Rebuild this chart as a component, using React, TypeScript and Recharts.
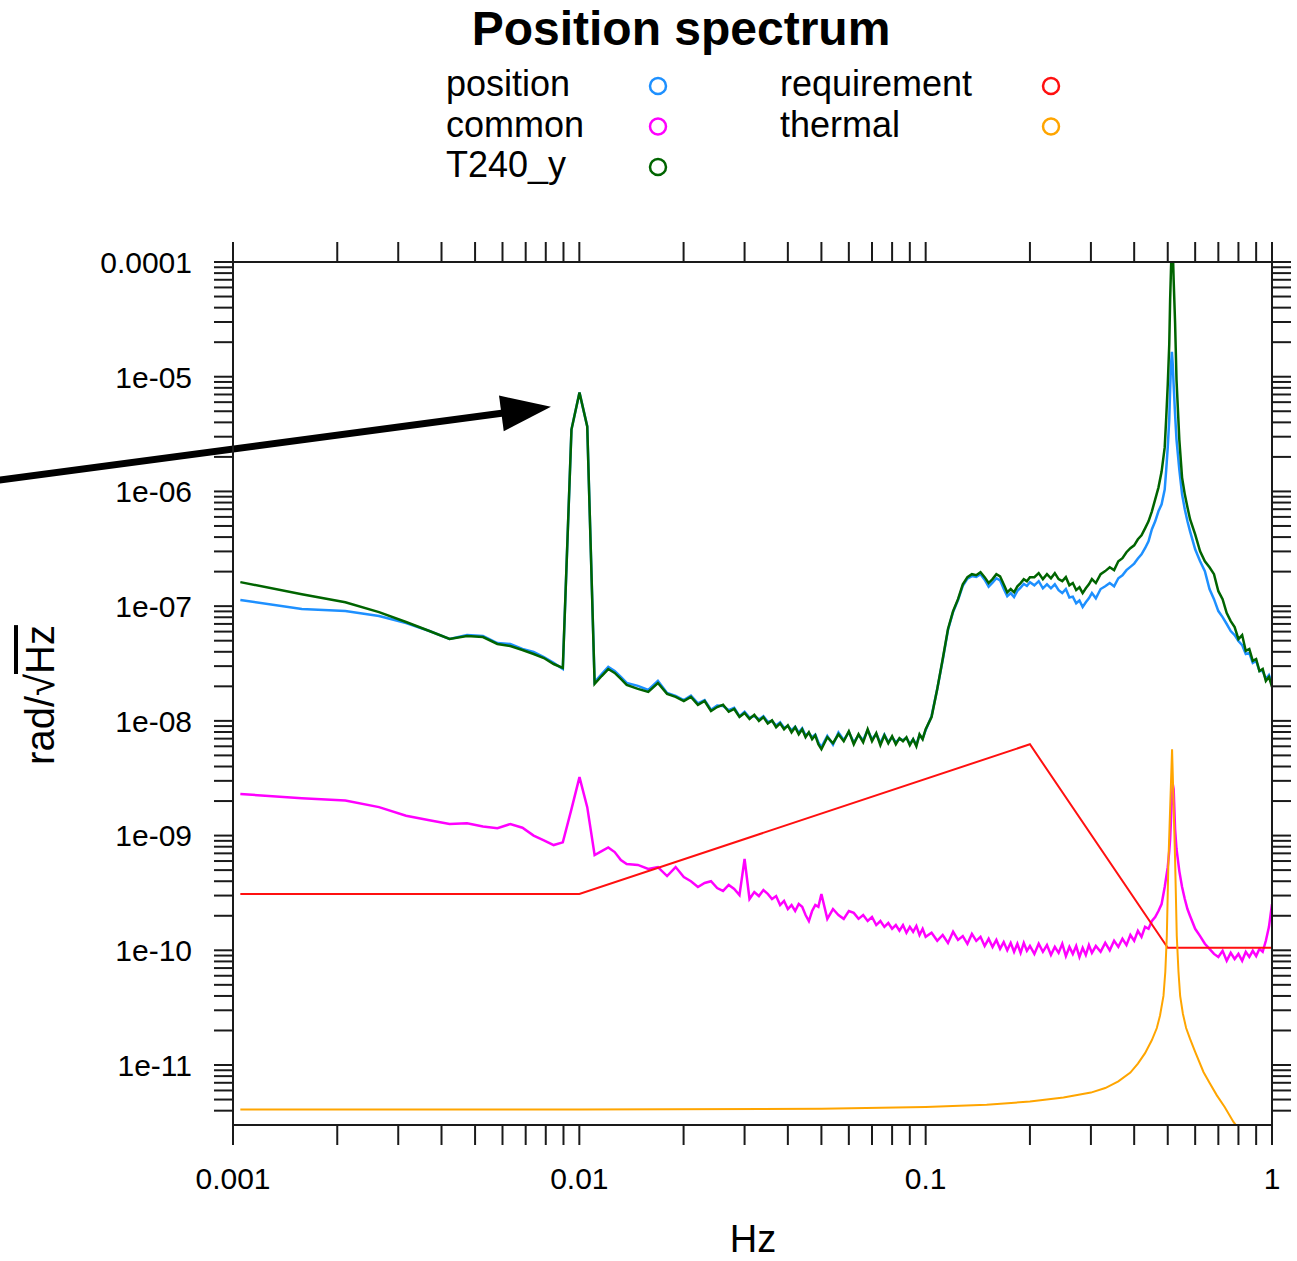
import React from 'react';
import { Customized, Line, LineChart, ReferenceLine, XAxis, YAxis } from 'recharts';

// Shared frequency grid (Hz) for the measured spectra
const freqHz = [
  0.00105, 0.00158, 0.00211, 0.00264, 0.00316, 0.00369, 0.00422, 0.00474, 0.00527, 0.0058,
  0.00632, 0.00685, 0.00738, 0.0079, 0.00843, 0.00896, 0.00949, 0.01001, 0.01054, 0.01107,
  0.0116, 0.01212, 0.01265, 0.01318, 0.0137, 0.01476, 0.01581, 0.01686, 0.01792, 0.01897, 0.02003,
  0.021, 0.022, 0.023, 0.024, 0.025, 0.026, 0.027, 0.028, 0.029, 0.03,
  0.031, 0.032, 0.033, 0.034, 0.035, 0.036, 0.037, 0.038, 0.039, 0.04,
  0.041, 0.042, 0.043, 0.044, 0.045, 0.046, 0.047, 0.048, 0.049, 0.05,
  0.052, 0.054, 0.056, 0.058, 0.06, 0.062, 0.064, 0.066, 0.068, 0.07, 0.072, 0.074, 0.076,
  0.078, 0.08, 0.082, 0.084, 0.086, 0.088, 0.09, 0.092, 0.094, 0.096, 0.098, 0.1,
  0.104, 0.108, 0.112, 0.116, 0.12, 0.124, 0.128, 0.132, 0.136, 0.14, 0.144, 0.148, 0.152,
  0.156, 0.16, 0.164, 0.168, 0.172, 0.176, 0.18, 0.184, 0.188, 0.192, 0.196, 0.2,
  0.206, 0.212, 0.218, 0.224, 0.23, 0.236, 0.242, 0.248, 0.254, 0.26, 0.266, 0.272, 0.278,
  0.284, 0.29, 0.296, 0.302,
  0.31, 0.32, 0.33, 0.34, 0.35, 0.36, 0.37, 0.38, 0.39, 0.4, 0.41, 0.42, 0.43, 0.44,
  0.45, 0.46, 0.47, 0.48, 0.49,
  0.495, 0.5, 0.505, 0.508, 0.511, 0.514, 0.517, 0.52, 0.525, 0.53,
  0.54, 0.55, 0.56, 0.57, 0.58,
  0.6, 0.62, 0.64, 0.66, 0.68, 0.7, 0.72, 0.74, 0.76, 0.78, 0.8, 0.82, 0.84, 0.86, 0.88,
  0.9, 0.92, 0.94, 0.96, 0.98, 1.0,
];

// rad/sqrt(Hz)
const positionAmp = [
  1.13e-7, 9.43e-8, 9.06e-8, 8.19e-8, 7.13e-8, 6.07e-8, 5.17e-8, 5.6e-8, 5.49e-8, 4.77e-8,
  4.68e-8, 4.23e-8, 3.98e-8, 3.6e-8, 3.2e-8, 2.83e-8, 3.46e-6, 7.27e-6, 3.68e-6, 2.18e-8,
  2.56e-8, 2.95e-8, 2.72e-8, 2.42e-8, 2.14e-8, 2.02e-8, 1.86e-8, 2.23e-8, 1.75e-8, 1.65e-8, 1.52e-8,
  1.66e-8, 1.42e-8, 1.52e-8, 1.25e-8, 1.36e-8, 1.35e-8, 1.24e-8, 1.3e-8, 1.1e-8, 1.2e-8,
  1.07e-8, 1.1e-8, 1.03e-8, 1.1e-8, 9.8e-9, 1.0e-8, 9.1e-9, 9.7e-9, 8.7e-9, 9.0e-9,
  8.3e-9, 8.9e-9, 7.9e-9, 8.6e-9, 7.5e-9, 7.8e-9, 7.2e-9, 7.6e-9, 6.5e-9, 5.9e-9,
  7.4e-9, 6.2e-9, 7.9e-9, 6.8e-9, 8.0e-9, 6.5e-9, 7.5e-9, 6.8e-9, 8.3e-9, 6.9e-9, 7.7e-9, 6.4e-9, 7.6e-9,
  6.5e-9, 7.2e-9, 6.5e-9, 7.0e-9, 6.8e-9, 7.1e-9, 6.3e-9, 6.9e-9, 6.2e-9, 7.5e-9, 7.0e-9, 8.3e-9,
  1.1e-8, 1.9e-8, 3.4e-8, 6.2e-8, 8.9e-8, 1.13e-7, 1.5e-7, 1.74e-7, 1.83e-7, 1.8e-7, 1.9e-7, 1.7e-7, 1.48e-7,
  1.6e-7, 1.75e-7, 1.68e-7, 1.42e-7, 1.22e-7, 1.3e-7, 1.2e-7, 1.36e-7, 1.45e-7, 1.56e-7, 1.5e-7, 1.62e-7,
  1.52e-7, 1.65e-7, 1.43e-7, 1.55e-7, 1.43e-7, 1.55e-7, 1.38e-7, 1.3e-7, 1.41e-7, 1.19e-7, 1.21e-7, 1.06e-7, 1.12e-7,
  9.82e-8, 1.08e-7, 1.17e-7, 1.3e-7,
  1.17e-7, 1.41e-7, 1.49e-7, 1.59e-7, 1.49e-7, 1.75e-7, 1.86e-7, 2.06e-7, 2.2e-7, 2.35e-7, 2.6e-7, 2.83e-7, 3.2e-7, 3.68e-7,
  4.68e-7, 5.49e-7, 6.71e-7, 7.72e-7, 1.04e-6,
  1.55e-6, 2.42e-6, 4.23e-6, 7.72e-6, 1.27e-5, 1.65e-5, 1.27e-5, 8.5e-6, 4.68e-6, 2.83e-6,
  1.55e-6, 9.43e-7, 6.99e-7, 5.49e-7, 4.49e-7,
  3.13e-7, 2.46e-7, 2.02e-7, 1.41e-7, 1.15e-7, 9.06e-8, 8.03e-8, 6.99e-8, 6.07e-8, 5.6e-8, 4.97e-8, 4.58e-8, 3.83e-8, 3.9e-8, 3.2e-8,
  3.33e-8, 2.72e-8, 2.72e-8, 2.32e-8, 2.51e-8, 2.14e-8,
];

const commonAmp = [
  2.3e-9, 2.12e-9, 2.02e-9, 1.77e-9, 1.49e-9, 1.36e-9, 1.26e-9, 1.28e-9, 1.2e-9, 1.16e-9,
  1.26e-9, 1.17e-9, 1.0e-9, 9.1e-10, 8.27e-10, 8.73e-10, 1.7e-9, 3.23e-9, 1.77e-9, 6.77e-10,
  7.33e-10, 7.89e-10, 7.18e-10, 6.12e-10, 5.65e-10, 5.55e-10, 5.11e-10, 5.32e-10, 4.44e-10, 5.32e-10, 4.35e-10,
  4.0e-10, 3.56e-10, 3.86e-10, 4.0e-10, 3.49e-10, 3.29e-10, 3.71e-10, 3.42e-10, 3.03e-10, 6.25e-10,
  2.8e-10, 3.22e-10, 2.97e-10, 3.35e-10, 3.1e-10, 2.8e-10, 2.97e-10, 2.48e-10, 2.69e-10, 2.29e-10,
  2.48e-10, 2.2e-10, 2.53e-10, 2.39e-10, 2.03e-10, 1.8e-10, 2.2e-10, 2.48e-10, 2.39e-10, 3.1e-10,
  1.88e-10, 2.29e-10, 2.03e-10, 1.88e-10, 2.2e-10, 2.12e-10, 1.88e-10, 2.03e-10, 1.8e-10, 1.95e-10, 1.66e-10, 1.8e-10, 1.6e-10,
  1.73e-10, 1.54e-10, 1.66e-10, 1.48e-10, 1.66e-10, 1.42e-10, 1.6e-10, 1.45e-10, 1.63e-10, 1.36e-10, 1.54e-10, 1.31e-10,
  1.42e-10, 1.21e-10, 1.36e-10, 1.16e-10, 1.45e-10, 1.23e-10, 1.33e-10, 1.14e-10, 1.39e-10, 1.21e-10, 1.31e-10, 1.09e-10, 1.26e-10,
  1.07e-10, 1.23e-10, 1.03e-10, 1.18e-10, 1.0e-10, 1.16e-10, 9.7e-11, 1.14e-10, 9.5e-11, 1.16e-10, 9.9e-11, 1.09e-10,
  9.3e-11, 1.14e-10, 9.7e-11, 1.11e-10, 9.1e-11, 1.07e-10, 9.5e-11, 1.14e-10, 8.9e-11, 1.07e-10, 9.3e-11, 1.09e-10, 8.75e-11,
  1.05e-10, 9.1e-11, 1.11e-10, 9.5e-11,
  1.09e-10, 9.7e-11, 1.16e-10, 1.0e-10, 1.21e-10, 1.07e-10, 1.26e-10, 1.11e-10, 1.36e-10, 1.21e-10, 1.48e-10, 1.31e-10, 1.6e-10, 1.54e-10,
  1.8e-10, 1.95e-10, 2.2e-10, 2.53e-10, 3.56e-10,
  4.36e-10, 5.3e-10, 7.33e-10, 9.3e-10, 1.39e-9, 2.08e-9, 2.81e-9, 2.54e-9, 1.14e-9, 7.64e-10,
  4.9e-10, 3.56e-10, 2.8e-10, 2.29e-10, 1.99e-10,
  1.54e-10, 1.33e-10, 1.14e-10, 1.03e-10, 9.3e-11, 8.75e-11, 9.9e-11, 8.1e-11, 9.5e-11, 8.4e-11, 9.3e-11, 8.1e-11, 9.7e-11, 8.75e-11, 9.9e-11,
  8.9e-11, 1.03e-10, 9.7e-11, 1.21e-10, 1.6e-10, 2.53e-10,
];

const t240yAmp = [
  1.62e-7, 1.27e-7, 1.08e-7, 8.88e-8, 7.27e-8, 6.07e-8, 5.17e-8, 5.49e-8, 5.38e-8, 4.68e-8,
  4.49e-8, 4.15e-8, 3.83e-8, 3.53e-8, 3.13e-8, 2.89e-8, 3.46e-6, 7.27e-6, 3.68e-6, 2.1e-8,
  2.46e-8, 2.83e-8, 2.62e-8, 2.32e-8, 2.06e-8, 1.9e-8, 1.79e-8, 2.14e-8, 1.72e-8, 1.62e-8, 1.49e-8,
  1.62e-8, 1.38e-8, 1.49e-8, 1.22e-8, 1.32e-8, 1.38e-8, 1.2e-8, 1.27e-8, 1.08e-8, 1.17e-8,
  1.04e-8, 1.13e-8, 1.0e-8, 1.08e-8, 9.5e-9, 1.01e-8, 8.8e-9, 9.5e-9, 8.45e-9, 9.15e-9,
  7.95e-9, 8.8e-9, 7.64e-9, 8.45e-9, 7.2e-9, 7.95e-9, 6.92e-9, 7.49e-9, 6.25e-9, 5.66e-9,
  7.2e-9, 6.38e-9, 7.64e-9, 6.64e-9, 8.1e-9, 6.25e-9, 7.64e-9, 6.5e-9, 8.45e-9, 6.64e-9, 7.8e-9, 6.13e-9, 7.49e-9,
  6.38e-9, 7.34e-9, 6.25e-9, 7.06e-9, 6.64e-9, 7.2e-9, 6.13e-9, 6.92e-9, 6.01e-9, 7.64e-9, 6.92e-9, 8.45e-9,
  1.08e-8, 1.9e-8, 3.46e-8, 6.32e-8, 9.06e-8, 1.15e-7, 1.55e-7, 1.79e-7, 1.9e-7, 1.86e-7, 1.98e-7, 1.79e-7, 1.59e-7,
  1.72e-7, 1.9e-7, 1.82e-7, 1.55e-7, 1.32e-7, 1.41e-7, 1.32e-7, 1.49e-7, 1.59e-7, 1.72e-7, 1.65e-7, 1.79e-7,
  1.79e-7, 1.94e-7, 1.72e-7, 1.9e-7, 1.75e-7, 1.94e-7, 1.72e-7, 1.65e-7, 1.79e-7, 1.52e-7, 1.59e-7, 1.38e-7, 1.46e-7,
  1.3e-7, 1.43e-7, 1.55e-7, 1.72e-7,
  1.59e-7, 1.9e-7, 2.02e-7, 2.18e-7, 2.06e-7, 2.46e-7, 2.62e-7, 2.95e-7, 3.2e-7, 3.39e-7, 3.83e-7, 4.15e-7, 4.77e-7, 5.49e-7,
  6.71e-7, 8.53e-7, 1.08e-6, 1.49e-6, 2.42e-6,
  4.4e-6, 8.5e-6, 1.9e-5, 4.68e-5, 8.8e-5, 1.55e-4, 1.3e-4, 7.0e-5, 2.95e-5, 9.4e-6,
  2.83e-6, 1.32e-6, 9.43e-7, 7.27e-7, 5.72e-7,
  4.23e-7, 3.01e-7, 2.46e-7, 2.18e-7, 1.9e-7, 1.35e-7, 1.15e-7, 8.7e-8, 7.41e-8, 6.58e-8, 5.17e-8, 5.6e-8, 4.07e-8, 4.23e-8, 3.33e-8,
  3.46e-8, 2.72e-8, 2.83e-8, 2.23e-8, 2.42e-8, 1.98e-8,
];

// requirement envelope
const reqFreq = [0.00105, 0.01, 0.2, 0.5, 1.0];
const reqAmp = [3.1e-10, 3.1e-10, 6.25e-9, 1.05e-10, 1.05e-10];

// thermal noise model
const thermalFreq = [
  0.00105, 0.01, 0.05, 0.1, 0.15, 0.2, 0.25, 0.3, 0.33, 0.36, 0.39, 0.41, 0.43, 0.45, 0.465,
  0.475, 0.486, 0.492, 0.497, 0.5022, 0.5146, 0.5252, 0.5309, 0.537, 0.543, 0.553, 0.565, 0.58,
  0.6, 0.634, 0.66, 0.693, 0.73, 0.774, 0.85,
];
const thermalAmp = [
  4.1e-12, 4.1e-12, 4.15e-12, 4.3e-12, 4.5e-12, 4.8e-12, 5.2e-12, 5.75e-12, 6.3e-12, 7.2e-12, 8.6e-12, 1.03e-11, 1.27e-11, 1.65e-11, 2.1e-11,
  2.7e-11, 4.0e-11, 6.5e-11, 1.34e-10, 5.9e-10, 5.66e-9, 5.9e-10, 1.34e-10, 6.5e-11, 4.0e-11, 2.8e-11, 2.1e-11, 1.69e-11,
  1.3e-11, 8.7e-12, 7.0e-12, 5.44e-12, 4.3e-12, 3.19e-12, 2.2e-12,
];

const xDecades = [0.001, 0.01, 0.1];
const yDecades = [1e-12, 1e-11, 1e-10, 1e-9, 1e-8, 1e-7, 1e-6, 1e-5];
const mantissas = [1, 2, 3, 4, 5, 6, 7, 8, 9];

const xTicks = [...xDecades.flatMap((d) => mantissas.map((m) => +(d * m).toPrecision(3))), 1];
const yTicks = [...yDecades.flatMap((d) => mantissas.map((m) => +(d * m).toPrecision(3))), 1e-4].filter(
  (t) => t > 3.5e-12
);

const series = [
  { name: 'position', color: '#1e90ff', freq: freqHz, amp: positionAmp, width: 2.5 },
  { name: 'common', color: '#ff00ff', freq: freqHz, amp: commonAmp, width: 2.5 },
  { name: 'T240_y', color: '#006400', freq: freqHz, amp: t240yAmp, width: 2.5 },
  { name: 'requirement', color: '#ff1010', freq: reqFreq, amp: reqAmp, width: 2 },
  { name: 'thermal', color: '#ffa500', freq: thermalFreq, amp: thermalAmp, width: 2 },
];

const toPoints = (fs: number[], vs: number[]) => fs.map((f, i) => ({ f, v: vs[i] }));

const FONT = "'Liberation Sans', Arial, Helvetica, sans-serif";
const AXIS = '#1a1a1a';

const isDecade = (v: number) => Math.abs(Math.log10(v) - Math.round(Math.log10(v))) < 1e-6;

const fmtY = (v: number) => {
  const e = Math.round(Math.log10(v));
  if (e === -4) return '0.0001';
  return `1e-${String(-e).padStart(2, '0')}`;
};

const fmtX = (v: number) => String(+v.toPrecision(1));

const BottomTick = (props: any) => {
  const { x, y, payload } = props;
  return (
    <g>
      <line x1={x} x2={x} y1={y} y2={y + 20} stroke={AXIS} strokeWidth={2} />
      {isDecade(payload.value) && (
        <text x={x} y={y + 64} textAnchor="middle" fontSize={30} fontFamily={FONT} fill="#000">
          {fmtX(payload.value)}
        </text>
      )}
    </g>
  );
};

const TopTick = (props: any) => {
  const { x, y } = props;
  return <line x1={x} x2={x} y1={y} y2={y - 20} stroke={AXIS} strokeWidth={2} />;
};

const LeftTick = (props: any) => {
  const { x, y, payload } = props;
  return (
    <g>
      <line x1={x} x2={x - 19} y1={y} y2={y} stroke={AXIS} strokeWidth={2} />
      {isDecade(payload.value) && (
        <text x={x - 41} y={y} dy="0.36em" textAnchor="end" fontSize={30} fontFamily={FONT} fill="#000">
          {fmtY(payload.value)}
        </text>
      )}
    </g>
  );
};

const RightTick = (props: any) => {
  const { x, y } = props;
  return <line x1={x} x2={x + 19} y1={y} y2={y} stroke={AXIS} strokeWidth={2} />;
};

const ArrowShape = (props: any) => {
  const { x1, y1, x2, y2 } = props;
  const dx = x2 - x1;
  const dy = y2 - y1;
  const len = Math.hypot(dx, dy) || 1;
  const ux = dx / len;
  const uy = dy / len;
  const head = 50;
  const half = 18;
  const bx = x2 - ux * head;
  const by = y2 - uy * head;
  return (
    <g>
      <line x1={x1} y1={y1} x2={bx + ux * 4} y2={by + uy * 4} stroke="#000" strokeWidth={7} />
      <polygon
        points={`${x2},${y2} ${bx - uy * half},${by + ux * half} ${bx + uy * half},${by - ux * half}`}
        fill="#000"
      />
    </g>
  );
};

const Annotations = () => (
  <g fontFamily={FONT} fill="#000">
    <text x={681} y={45} textAnchor="middle" fontSize={48} fontWeight="bold">
      Position spectrum
    </text>
    {series.map((s, i) => {
      const col = i < 3 ? 0 : 1;
      const row = i < 3 ? i : i - 3;
      const tx = col === 0 ? 446 : 780;
      const cx = col === 0 ? 658 : 1051;
      const base = 96 + row * 40.5;
      return (
        <g key={s.name}>
          <text x={tx} y={base} fontSize={36}>
            {s.name}
          </text>
          <circle cx={cx} cy={base - 10} r={8} fill="none" stroke={s.color} strokeWidth={2.5} />
        </g>
      );
    })}
    <text x={753} y={1252} textAnchor="middle" fontSize={38}>
      Hz
    </text>
    <text transform="translate(54,695) rotate(-90)" textAnchor="middle" fontSize={40}>
      rad/√<tspan style={{ textDecoration: 'overline' }}>Hz</tspan>
    </text>
  </g>
);

const App: React.FC = () => (
  <div style={{ position: 'absolute', left: 0, top: 0, width: 1297, height: 1261, background: '#fff' }}>
    <LineChart width={1297} height={1261} margin={{ top: 0, right: 0, bottom: 0, left: 0 }}>
      <XAxis
        dataKey="f"
        type="number"
        scale="log"
        domain={[0.001, 1]}
        allowDataOverflow
        ticks={xTicks}
        interval={0}
        height={136}
        tickSize={0}
        tickMargin={0}
        tickLine={false}
        tick={<BottomTick />}
        axisLine={{ stroke: AXIS, strokeWidth: 2 }}
      />
      <XAxis
        xAxisId="top"
        orientation="top"
        dataKey="f"
        type="number"
        scale="log"
        domain={[0.001, 1]}
        allowDataOverflow
        ticks={xTicks}
        interval={0}
        height={262}
        tickSize={0}
        tickMargin={0}
        tickLine={false}
        tick={<TopTick />}
        axisLine={{ stroke: AXIS, strokeWidth: 2 }}
      />
      <YAxis
        type="number"
        scale="log"
        domain={[3e-12, 1e-4]}
        allowDataOverflow
        ticks={yTicks}
        interval={0}
        width={233}
        tickSize={0}
        tickMargin={0}
        tickLine={false}
        tick={<LeftTick />}
        axisLine={{ stroke: AXIS, strokeWidth: 2 }}
      />
      <YAxis
        yAxisId="right"
        orientation="right"
        type="number"
        scale="log"
        domain={[3e-12, 1e-4]}
        allowDataOverflow
        ticks={yTicks}
        interval={0}
        width={25}
        tickSize={0}
        tickMargin={0}
        tickLine={false}
        tick={<RightTick />}
        axisLine={{ stroke: AXIS, strokeWidth: 2 }}
      />
      {series.map((s) => (
        <Line
          key={s.name}
          name={s.name}
          data={toPoints(s.freq, s.amp)}
          dataKey="v"
          type="linear"
          stroke={s.color}
          strokeWidth={s.width}
          dot={false}
          activeDot={false}
          isAnimationActive={false}
        />
      ))}
      <ReferenceLine
        segment={[
          { x: 0.000205, y: 1.24e-6 },
          { x: 0.00828, y: 5.47e-6 },
        ]}
        ifOverflow="visible"
        shape={ArrowShape}
      />
      <Customized component={Annotations} />
    </LineChart>
  </div>
);

export default App;
